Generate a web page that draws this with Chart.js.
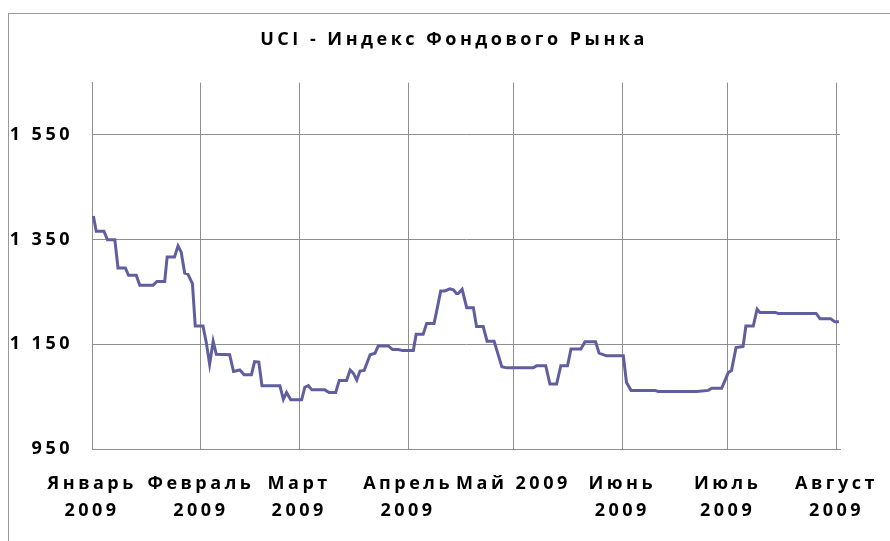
<!DOCTYPE html>
<html>
<head>
<meta charset="utf-8">
<script src="https://cdn.jsdelivr.net/npm/chart.js@4/dist/chart.umd.min.js"></script>
<style>
  html, body { margin: 0; padding: 0; background: #fff; overflow: hidden; }
  #wrap { position: relative; width: 890px; height: 541px; overflow: hidden; }
  #frame { position: absolute; left: 8px; top: 13px; width: 1000px; height: 700px;
           border-left: 1px solid #999; border-top: 1px solid #999; }
  #chart { position: absolute; left: 0; top: 0; }
</style>
</head>
<body>
<div id="wrap">
  <div id="frame"></div>
  <canvas id="chart" width="908" height="541"></canvas>
</div>
<script>
// days counted from 1 January 2009
const monthStarts = [0, 31, 59, 90, 120, 151, 181, 212];
const monthLabels = [
  ["Январь", "2009"],
  ["Февраль", "2009"],
  ["Март", "2009"],
  ["Апрель", "2009"],
  "Май 2009",
  ["Июнь", "2009"],
  ["Июль", "2009"],
  ["Август", "2009"],
];

const yTicks = [950, 1150, 1350, 1550];
const yTickLabels = ["950", "1 150", "1 350", "1 550"];

const days = [
  0.4, 1.2, 3.4, 4.4, 6.5, 7.4, 9.5, 10.4, 12.6, 13.6, 17.4, 18.5, 20.7, 21.4,
  23.5, 24.5, 25.4, 26.4, 27.3, 28.6, 29.4, 31.6, 32.5, 33.5, 34.5, 35.4, 39.2,
  40.3, 42.1, 43.3, 45.4, 46.3, 47.5, 48.4, 53.5, 54.5, 55.4, 56.6, 59.7, 60.6,
  61.6, 62.6, 66.3, 67.5, 69.4, 70.4, 72.5, 73.5, 74.4, 75.4, 76.3, 77.5, 79.2,
  80.6, 81.5, 84.4, 85.6, 87.2, 88.5, 91.5, 92.3, 94.3, 95.3, 97.4, 98.1, 99.3,
  100.5, 101.9, 102.9, 103.8, 104.3, 105.4, 106.7, 108.6, 109.5, 111.4, 112.5,
  114.5, 115.4, 116.7, 118.1, 125.7, 126.6, 129.2, 130.4, 132.3, 133.5, 135.4,
  136.4, 139.2, 140.4, 143.4, 144.4, 146.5, 151.3, 152.2, 153.5, 160.3, 161.2,
  172.2, 175.5, 176.5, 179.3, 180.5, 181.2, 182.1, 183.4, 185.4, 186.2, 188.3,
  189.4, 190.2, 194.5, 195.4, 206.2, 207.3, 210.3, 211.5, 212.7,
];
const uci = [
  1395, 1366, 1366, 1350, 1350, 1296, 1296, 1282, 1282, 1263, 1263, 1270, 1270, 1317,
  1317, 1338, 1326, 1286, 1284, 1266, 1185, 1185, 1155, 1112, 1156, 1131, 1130,
  1098, 1101, 1092, 1092, 1117, 1116, 1071, 1071, 1045, 1058, 1044, 1044, 1068,
  1071, 1063, 1063, 1058, 1058, 1081, 1081, 1101, 1095, 1082, 1099, 1100, 1130,
  1133, 1147, 1147, 1140, 1140, 1138, 1138, 1169, 1169, 1190, 1190, 1212, 1252,
  1252, 1256, 1254, 1247, 1247, 1255, 1220, 1220, 1184, 1184, 1156,
  1156, 1136, 1107, 1105, 1105, 1109, 1109, 1074, 1074, 1109, 1109,
  1141, 1141, 1155, 1155, 1133, 1128, 1128, 1077, 1062, 1062, 1060,
  1060, 1062, 1066, 1066, 1085, 1096, 1100, 1144, 1146, 1185, 1185,
  1217, 1211, 1211, 1209, 1209, 1199, 1199, 1193, 1193,
];

const gridColor = "#8e8e8e";
const lineColor = "#5f5f9f";
const spacing = "3.5px";
const labelFont = { family: "'Open Sans'", size: 18, weight: "bold" };

const letterSpacing = {
  id: "letterSpacing",
  beforeUpdate(chart) { chart.ctx.letterSpacing = spacing; },
  beforeDraw(chart) { chart.ctx.letterSpacing = spacing; },
};

new Chart(document.getElementById("chart"), {
  type: "line",
  data: {
    datasets: [
      {
        label: "UCI",
        data: days.map((d, i) => ({ x: d, y: uci[i] })),
        borderColor: lineColor,
        borderWidth: 3,
        pointRadius: 0,
        tension: 0,
        fill: false,
      },
    ],
  },
  options: {
    responsive: false,
    animation: false,
    events: [],
    layout: { padding: 0 },
    plugins: {
      legend: { display: false },
      tooltip: { enabled: false },
      title: {
        display: true,
        text: "UCI - Индекс Фондового Рынка",
        color: "#000",
        font: { ...labelFont, lineHeight: 1.2 },
        padding: { top: 29, bottom: 32 },
      },
    },
    scales: {
      x: {
        type: "linear",
        min: 0,
        max: 213,
        afterBuildTicks: (scale) => { scale.ticks = monthStarts.map((v) => ({ value: v })); },
        afterFit: (scale) => { scale.height = 92; scale.paddingLeft = 0; scale.paddingRight = 68; },
        grid: { color: gridColor, lineWidth: 1, drawTicks: false },
        border: { color: gridColor, width: 1 },
        ticks: {
          autoSkip: false,
          maxRotation: 0,
          padding: 21,
          color: "#000",
          font: { ...labelFont, lineHeight: 1.52 },
          callback: (value) => monthLabels[monthStarts.indexOf(value)],
        },
      },
      y: {
        min: 950,
        max: 1650,
        afterBuildTicks: (scale) => { scale.ticks = yTicks.map((v) => ({ value: v })); },
        afterFit: (scale) => { scale.width = 92; scale.paddingTop = 0; scale.paddingBottom = 0; },
        grid: { color: gridColor, lineWidth: 1, drawTicks: false },
        border: { color: gridColor, width: 1 },
        ticks: {
          padding: 19,
          color: "#000",
          font: labelFont,
          callback: (value) => yTickLabels[yTicks.indexOf(value)],
        },
      },
    },
  },
  plugins: [letterSpacing],
});
</script>
</body>
</html>
